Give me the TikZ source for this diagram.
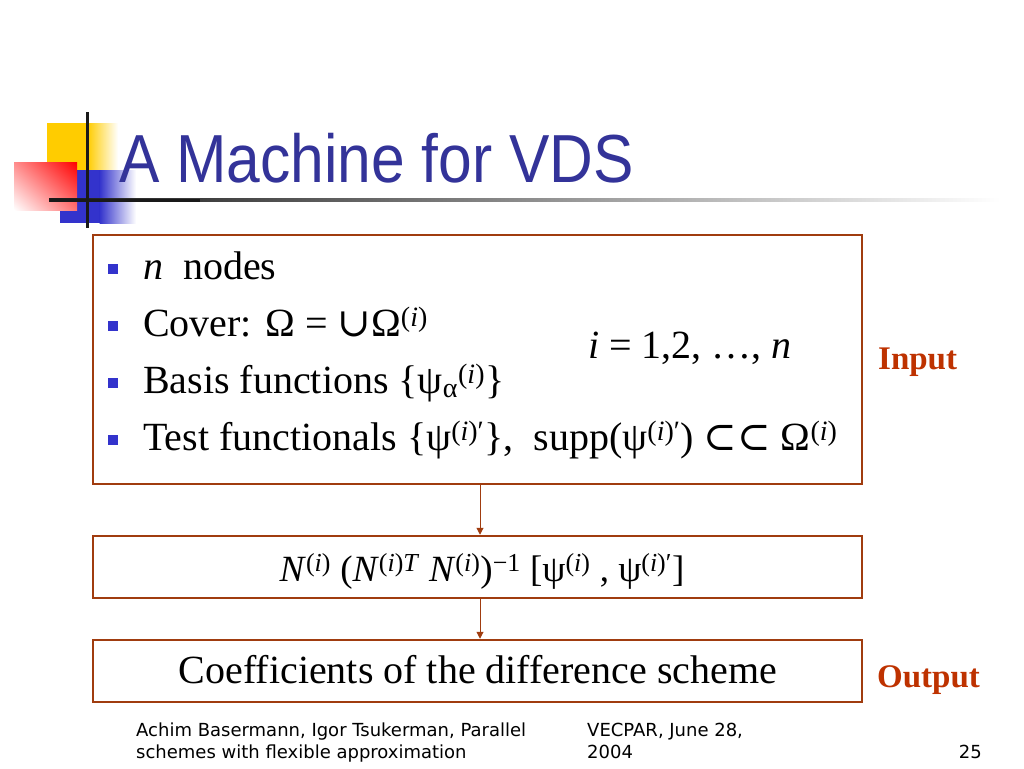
\documentclass[tikz,border=0pt]{standalone}
\usepackage{fontspec}
\setmainfont{Liberation Serif}
\newfontfamily\titlefont{Liberation Sans}
\newfontfamily\footfont{DejaVu Sans}
\newfontfamily\symfont{DejaVu Serif}
\usetikzlibrary{arrows.meta,shadings}
\definecolor{titleblue}{RGB}{51,51,153}
\definecolor{boxbrown}{RGB}{160,60,15}
\definecolor{labelred}{RGB}{190,50,0}
\definecolor{bulletblue}{RGB}{51,51,204}
\definecolor{logoyellow}{RGB}{255,204,0}
\definecolor{logoblue}{RGB}{51,51,204}
\newcommand\upx[1]{\textsuperscript{#1}}
\newcommand\sy[1]{{\symfont #1}}
\begin{document}
\begin{tikzpicture}[x=1pt,y=-1pt,
  stagebox/.style={draw=boxbrown,line width=2.5pt,fill=white,inner sep=0pt},
  flowarrow/.style={draw=boxbrown,line width=1pt,-{Triangle[length=7pt,width=7pt]}},
  bodytext/.style={font=\fontsize{40}{46}\selectfont,anchor=base west,inner sep=0pt},
  sidelabel/.style={font=\fontsize{33}{38}\selectfont\bfseries,text=labelred,anchor=base west,inner sep=0pt},
  bulletsq/.style={fill=bulletblue,minimum size=10pt,inner sep=0pt},
  foot/.style={font=\footfont\fontsize{18}{22}\selectfont,anchor=base west,inner sep=0pt,align=left}]
\useasboundingbox (0,0) rectangle (1024,768);
\fill[white] (0,0) rectangle (1024,768);
% logo
\fill[logoyellow] (47,123) rectangle (88,170);
\shade[left color=logoyellow,right color=white] (87.5,123) rectangle (118,170);
\fill[logoblue] (60,170) rectangle (100,223);
\shade[left color=logoblue,right color=white] (99.5,170) rectangle (136,223);
\shade[upper right=red,upper left=red!45,lower right=red!55,lower left=white] (14,162) rectangle (77,210);
\shade[left color=black!90,right color=white,middle color=black!45] (49,198.5) rectangle (1000,201.5);
\fill[black!90] (49,198.5) rectangle (200,201.5);
\fill[black!90] (85.5,112) rectangle (88.5,228);
% title
\node[font=\titlefont\fontsize{68}{72}\selectfont,text=titleblue,anchor=base west,inner sep=0pt] (title) at (119,182) {\scalebox{0.89}[1]{A Machine for VDS}};
% boxes
\node[stagebox,minimum width=769pt,minimum height=249pt] (inbox) at (477.5,359.5) {};
\node[stagebox,minimum width=769pt,minimum height=62pt] (mid) at (477.5,567) {};
\node[stagebox,minimum width=769pt,minimum height=62pt] (outbox) at (477.5,671) {};
\draw[flowarrow] (inbox.south -| 480,0) -- (mid.north -| 480,0);
\draw[flowarrow] (mid.south -| 480,0) -- (outbox.north -| 480,0);
% bullets
\node[bulletsq] (b1) at (112.5,268.5) {};
\node[bulletsq] (b2) at (112.5,325.5) {};
\node[bulletsq] (b3) at (112.5,382.5) {};
\node[bulletsq] (b4) at (112.5,439.5) {};
\node[bodytext] (t1) at (143,279) {\textit{n}\ \ nodes};
\node[bodytext] (t2) at (143,336) {Cover: Ω = \sy{∪}Ω\upx{(\textit{i})}};
\node[bodytext] (t3) at (143,393) {Basis functions \{ψ\textsubscript{α}\upx{(\textit{i})}\}};
\node[bodytext] (t4) at (143,450) {Test functionals \{ψ\upx{(\textit{i})′}\},\ \ supp(ψ\upx{(\textit{i})′}) \sy{⊂⊂} Ω\upx{(\textit{i})}};
\node[bodytext] (range) at (588,358) {\textit{i} = 1,2, …, \textit{n}};
\node[bodytext,font=\fontsize{37}{42}\selectfont,anchor=base] (formula) at (482,581) {\textit{N}\upx{(\textit{i})} (\textit{N}\upx{(\textit{i})\textit{T}} \textit{N}\upx{(\textit{i})})\upx{−1} [ψ\upx{(\textit{i})} , ψ\upx{(\textit{i})′}]};
\node[bodytext,anchor=base] (coef) at (478,683) {Coefficients of the difference scheme};
\node[sidelabel] (input) at (878,369) {Input};
\node[sidelabel] (output) at (877,687) {Output};
% footer
\node[foot] (f1) at (136,758) {Achim Basermann, Igor Tsukerman, Parallel\\schemes with flexible approximation};
\node[foot] (f2) at (587,758) {VECPAR, June 28,\\2004};
\node[foot,anchor=base east] (f3) at (982,758) {25};
\end{tikzpicture}
\end{document}
